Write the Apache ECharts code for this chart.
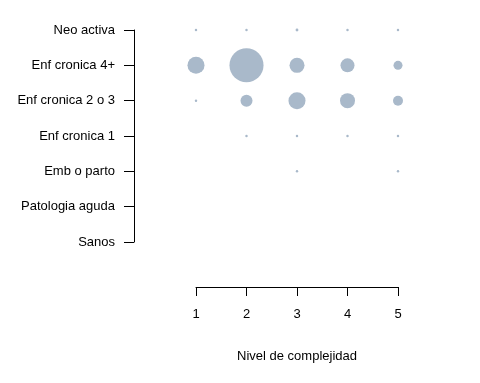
<!DOCTYPE html>
<html>
<head>
<meta charset="utf-8">
<script src="https://cdn.jsdelivr.net/npm/echarts@6/dist/echarts.min.js"></script>
<style>html,body{margin:0;padding:0;background:#fff;}#c{width:480px;height:383px;}</style>
</head>
<body>
<div id="c"></div>
<script>
// Categories (bottom to top)
var categories = ['Sanos', 'Patologia aguda', 'Emb o parto', 'Enf cronica 1', 'Enf cronica 2 o 3', 'Enf cronica 4+', 'Neo activa'];
var levels = [1, 2, 3, 4, 5];
var xTickLabels = ['1', '2', '3', '4', '5'];
// Estimated values per row (by complexity level 1..5); null = no bubble
var sanos        = [null, null, null, null, null];
var patAguda     = [null, null, null, null, null];
var embParto     = [null, null, 6, null, 6];
var enfCron1     = [null, 6, 6, 6, 6];
var enfCron23    = [6, 144, 290, 225, 100];
var enfCron4     = [290, 1160, 225, 196, 81];
var neoActiva    = [6, 6, 8, 6, 6];

var rows = [sanos, patAguda, embParto, enfCron1, enfCron23, enfCron4, neoActiva];
var data = [];
rows.forEach(function (row, ci) {
  row.forEach(function (v, li) {
    if (v != null) data.push([levels[li], ci, v]);
  });
});

var chart = echarts.init(document.getElementById('c'), null, {renderer: 'canvas'});
var txt = {color: '#000', fontFamily: 'Liberation Sans, Arial, sans-serif', fontSize: 13};
chart.setOption({
  animation: false,
  backgroundColor: '#fff',
  grid: {left: 196, right: 82, top: 30, bottom: 141},
  xAxis: {
    type: 'value', min: 1, max: 5, interval: 1,
    offset: 45,
    axisLine: {show: true, lineStyle: {color: '#000', width: 1}},
    axisTick: {show: true, length: 9, inside: false, lineStyle: {color: '#000'}},
    axisLabel: Object.assign({margin: 21, formatter: function (v) { return xTickLabels[v - 1]; }}, txt),
    splitLine: {show: false},
    name: 'Nivel de complejidad', nameLocation: 'middle', nameGap: 63,
    nameTextStyle: txt
  },
  yAxis: {
    type: 'category', data: categories, boundaryGap: false,
    offset: 62,
    axisLine: {show: true, lineStyle: {color: '#000', width: 1}},
    axisTick: {show: true, length: 10, alignWithLabel: true, lineStyle: {color: '#000'}},
    axisLabel: Object.assign({margin: 19, interval: 0}, txt),
    splitLine: {show: false}
  },
  series: [{
    type: 'scatter',
    clip: false,
    data: data,
    symbol: 'circle',
    symbolSize: function (d) { return Math.sqrt(d[2]); },
    itemStyle: {color: '#A9B9CA', opacity: 1}
  }]
});
</script>
</body>
</html>
